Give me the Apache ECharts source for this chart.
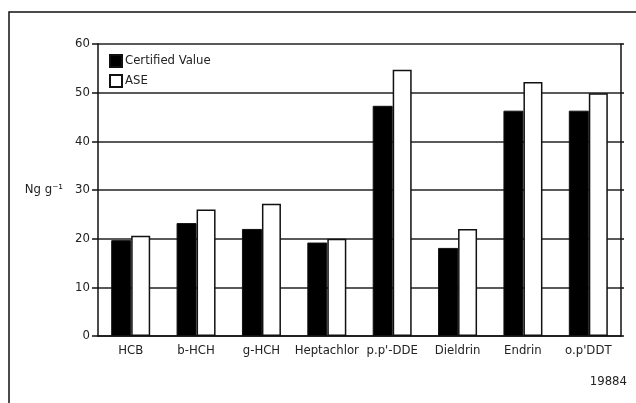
<!DOCTYPE html>
<html><head><meta charset="utf-8">
<script src="https://cdn.jsdelivr.net/npm/echarts@6/dist/echarts.min.js"></script>
<style>html,body{margin:0;padding:0;background:#fff}#c{width:636px;height:403px}</style>
</head><body><div id="c"></div>
<script>
const categories = ['HCB','b-HCH','g-HCH','Heptachlor','p.p\'-DDE','Dieldrin','Endrin','o.p\'DDT'];
const certifiedValues = [19.7, 23.2, 22.0, 19.2, 47.3, 18.1, 46.3, 46.3];
const aseValues = [20.6, 26.0, 27.2, 20.0, 54.7, 22.0, 52.2, 49.9];
const seriesNames = ['Certified Value', 'ASE'];
const yAxisName = 'Ng g\u207B\u00B9';
const footnote = '19884';
const yMin = 0, yMax = 60, yInterval = 10;

const FONT = '"DejaVu Sans Condensed", "Liberation Sans Narrow", sans-serif';
const FS = 13;
const chart = echarts.init(document.getElementById('c'), null, {renderer:'canvas'});
chart.setOption({
  animation: false,
  backgroundColor: '#fff',
  textStyle: {fontFamily: FONT, color: '#222'},
  graphic: [
    {type:'rect', shape:{x:9, y:12, width:700, height:500}, style:{fill:'none', stroke:'#111', lineWidth:1.5}, z:-1},
    {type:'text', right: 9, top: 375, style:{text: footnote, font: FS + 'px ' + FONT, fill:'#222'}}
  ],
  legend: {
    orient:'vertical', left: 104, top: 49, itemWidth: 12, itemHeight: 12, itemGap: 6,
    icon: 'rect',
    textStyle:{fontFamily: FONT, fontSize: FS, color:'#222', padding:[0,0,0,-2]},
    data: seriesNames
  },
  grid: {left: 98, right: 15, top: 44, bottom: 67},
  xAxis: {
    type:'category', data: categories,
    axisLine:{lineStyle:{color:'#111', width:1.5}},
    axisTick:{alignWithLabel:true, length:5, lineStyle:{color:'#111', width:1.5}},
    axisLabel:{fontFamily: FONT, fontSize: FS, color:'#222', margin: 8, interval: 0}
  },
  yAxis: [{
    type:'value', min:yMin, max:yMax, interval:yInterval,
    name: yAxisName, nameLocation:'middle', nameRotate:0, nameGap: 35,
    nameTextStyle:{fontFamily: FONT, fontSize: FS, color:'#222', align:'right', verticalAlign:'middle'},
    axisLine:{show:true, lineStyle:{color:'#111', width:1.5}},
    axisTick:{show:true, length:6, lineStyle:{color:'#111', width:1.5}},
    axisLabel:{fontFamily: FONT, fontSize: FS, color:'#222', margin: 8},
    splitLine:{show:true, lineStyle:{color:'#222', width:1.5}}
  },{
    type:'value', min:yMin, max:yMax, interval:yInterval, position:'right',
    axisLine:{show:true, lineStyle:{color:'#111', width:1.5}},
    axisTick:{show:true, length:3, lineStyle:{color:'#111', width:1.5}},
    axisLabel:{show:false}, splitLine:{show:false}
  }],
  series: [
    {name: seriesNames[0], type:'bar', data: certifiedValues, barWidth: 20, barGap: '0%',
     itemStyle:{color:'#000', borderColor:'#111', borderWidth:1}},
    {name: seriesNames[1], type:'bar', data: aseValues, barWidth: 19,
     itemStyle:{color:'#fff', borderColor:'#111', borderWidth:1.5}}
  ]
});
</script></body></html>
